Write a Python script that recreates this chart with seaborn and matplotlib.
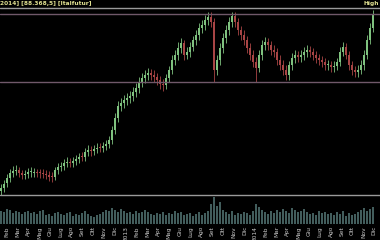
import numpy as np
import pandas as pd
import matplotlib
matplotlib.use("Agg")
import matplotlib.pyplot as plt
import seaborn as sns

# ---------------- data ----------------
opens = [9, 12, 17, 22, 27, 29, 30, 27, 25, 26,
         28, 27, 28, 28, 27, 26, 25, 24, 23, 30,
         33, 34, 37, 38, 37, 39, 41, 44, 43, 48,
         50, 49, 51, 53, 52, 54, 56, 60, 70, 82,
         94, 97, 100, 102, 104, 108, 112, 118, 122, 125,
         127, 125, 123, 120, 116, 115, 122, 130, 140, 145,
         152, 157, 145, 148, 153, 160, 165, 172, 175, 180,
         183, 178, 130, 140, 152, 162, 170, 178, 184, 178,
         170, 165, 160, 152, 145, 138, 132, 145, 155, 158,
         155, 150, 148, 140, 135, 130, 125, 135, 142, 145,
         143, 145, 148, 150, 148, 145, 142, 140, 138, 135,
         135, 133, 134, 138, 148, 153, 145, 135, 130, 128,
         130, 135, 145, 160, 172]
closes = [12, 16, 22, 27, 29, 30, 27, 25, 26, 28,
          28, 28, 27, 27, 26, 25, 23, 23, 30, 33,
          34, 37, 38, 37, 39, 41, 43, 43, 48, 50,
          49, 51, 52, 52, 54, 56, 60, 70, 82, 94,
          97, 100, 102, 104, 108, 112, 118, 122, 125, 127,
          125, 123, 120, 116, 115, 122, 130, 140, 145, 152,
          157, 145, 148, 153, 160, 165, 172, 175, 180, 183,
          178, 130, 140, 152, 162, 170, 178, 184, 178, 170,
          165, 160, 152, 145, 138, 132, 145, 155, 158, 155,
          150, 148, 140, 135, 130, 125, 135, 142, 145, 143,
          145, 148, 150, 148, 145, 142, 140, 138, 135, 135,
          133, 134, 138, 148, 153, 145, 135, 130, 128, 130,
          135, 145, 160, 172, 185]
highs = [16, 20, 26, 31, 34, 35, 33, 30, 30, 32,
         33, 32, 31, 31, 31, 30, 29, 28, 33, 37,
         38, 41, 43, 42, 43, 45, 47, 48, 52, 55,
         54, 55, 57, 57, 58, 60, 64, 74, 87, 99,
         102, 105, 107, 109, 113, 117, 123, 127, 130, 132,
         131, 130, 127, 124, 121, 126, 134, 145, 150, 158,
         162, 160, 153, 158, 164, 170, 177, 180, 185, 188,
         188, 182, 145, 157, 167, 175, 183, 188, 188, 182,
         174, 170, 164, 157, 150, 143, 150, 160, 163, 162,
         159, 155, 152, 145, 140, 135, 139, 147, 150, 149,
         150, 153, 155, 154, 152, 149, 146, 144, 142, 140,
         139, 139, 142, 153, 158, 157, 149, 139, 134, 135,
         140, 150, 165, 177, 190]
lows = [5, 8, 13, 18, 23, 25, 23, 21, 21, 22,
        23, 23, 23, 22, 22, 21, 19, 18, 20, 26,
        29, 30, 33, 33, 33, 35, 37, 39, 39, 44,
        44, 45, 47, 48, 48, 50, 52, 56, 66, 78,
        89, 92, 95, 97, 99, 103, 107, 113, 117, 120,
        120, 118, 115, 111, 109, 111, 118, 126, 135, 140,
        147, 140, 141, 143, 149, 155, 160, 167, 170, 175,
        173, 118, 125, 135, 147, 157, 165, 173, 173, 165,
        160, 155, 147, 140, 133, 118, 128, 140, 150, 150,
        145, 143, 135, 130, 125, 120, 120, 130, 137, 138,
        138, 140, 143, 143, 140, 137, 135, 133, 130, 130,
        128, 128, 130, 134, 144, 141, 130, 125, 123, 123,
        126, 130, 141, 156, 168]
volumes = [13, 12, 15, 14, 11, 13, 12, 10, 12, 13,
           11, 12, 10, 13, 14, 9, 10, 8, 11, 12,
           10, 9, 11, 12, 8, 10, 9, 11, 13, 10,
           8, 7, 9, 10, 12, 14, 13, 16, 14, 12,
           15, 13, 11, 12, 10, 13, 11, 12, 14, 12,
           10, 9, 11, 10, 12, 9, 11, 10, 13, 11,
           12, 9, 10, 11, 8, 10, 12, 9, 11, 13,
           20, 27, 18, 22, 14, 12, 10, 13, 9, 11,
           10, 12, 11, 9, 13, 20, 17, 14, 12, 10,
           13, 11, 14, 12, 15, 13, 11, 16, 14, 12,
           13, 15, 12, 10, 11, 9, 13, 11, 12, 10,
           11, 9, 12, 10, 13, 8, 11, 9, 10, 12,
           14, 16, 13, 15, 17]
levels = [186, 118]
month_labels = ["Feb", "Mar", "Apr", "Mag", "Giu", "Lug", "Ago", "Set", "Ott", "Nov", "Dic",
                "2013", "Feb", "Mar", "Apr", "Mag", "Giu", "Lug", "Ago", "Set", "Ott", "Nov", "Dic",
                "2014", "Feb", "Mar", "Apr", "Mag", "Giu", "Lug", "Ago", "Set", "Ott", "Nov", "Dic"]
header_left = "2014] [88.368,5] [Italfutur]"
header_right = "High"

df = pd.DataFrame({"i": np.arange(len(closes)), "open": opens, "close": closes,
                   "high": highs, "low": lows, "volume": volumes})
df["up"] = df["close"] >= df["open"]

# ---------------- style ----------------
sns.set_theme(style="dark", rc={"axes.facecolor": "black", "figure.facecolor": "black",
                                "axes.edgecolor": "black", "grid.color": "black"})
plt.rcParams["font.family"] = ["Liberation Sans Narrow", "DejaVu Sans"]

GREEN = "#7fc27f"
RED = "#a84545"
VOLC = "#6f9c99"
LEVEL = "#70586a"
SEP = "#9a9a9a"

fig = plt.figure(figsize=(3.8, 2.4), dpi=100)
fig.patch.set_facecolor("black")

ax = fig.add_axes([0, 1 - 195 / 240, 1, 187 / 240])
vax = fig.add_axes([0, 1 - 224 / 240, 1, 29 / 240])
xlim = (-1 / 3, 379 / 3)

# candles
colors = np.where(df["up"], GREEN, RED)
ax.vlines(df["i"], df["low"], df["high"], colors=colors, linewidth=0.6)
body_bottom = np.minimum(df["open"], df["close"])
body_h = np.maximum(np.abs(df["close"] - df["open"]), 0.8)
ax.bar(df["i"], body_h, bottom=body_bottom, width=0.45, color=colors, linewidth=0)
for lv in levels:
    ax.axhline(lv, color=LEVEL, linewidth=1.0)
ax.set_xlim(*xlim)
ax.set_ylim(5, 192)
ax.set_xticks([])
ax.set_yticks([])
ax.set_xlabel("")
ax.set_ylabel("")
for s in ax.spines.values():
    s.set_visible(False)

# volume
sns.barplot(data=df, x="i", y="volume", native_scale=True, color=VOLC, width=0.4,
            saturation=1, ax=vax, linewidth=0)
for p in vax.patches:
    p.set_snap(False)
vax.set_xlim(*xlim)
vax.set_ylim(0, 29)
vax.set_yticks([])
vax.set_ylabel("")
vax.set_xlabel("")
tick_pos = [2 + 3.6 * k for k in range(len(month_labels))]
vax.set_xticks(tick_pos)
vax.set_xticklabels(month_labels, rotation=90, fontsize=4.2, color="#c8c8c8")
vax.tick_params(axis="x", length=0, pad=1.5)
for s in vax.spines.values():
    s.set_visible(False)

# separators / header
fig.add_artist(plt.Line2D([0, 1], [1 - 8 / 240] * 2, color=SEP, linewidth=1.0))
fig.add_artist(plt.Line2D([0, 1], [1 - 195 / 240] * 2, color=SEP, linewidth=1.0))
fig.text(0.0, 1 - 0.5 / 240, header_left, fontsize=4.2, fontweight="bold",
         color="#e0e090", va="top", ha="left")
fig.text(0.997, 1 - 0.5 / 240, header_right, fontsize=4.2, fontweight="bold",
         color="#e0e090", va="top", ha="right")

fig.savefig("out.png", dpi=100, facecolor="black")
